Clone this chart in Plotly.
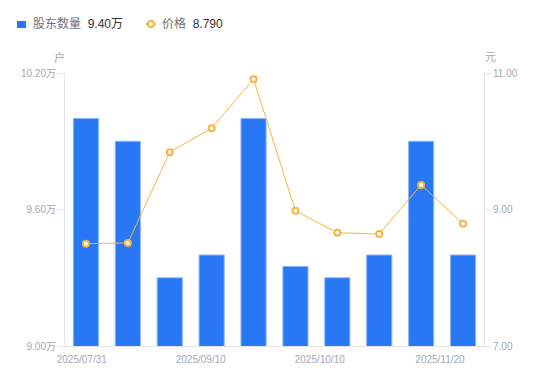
import plotly.graph_objects as go

dates = ["2025/07/31", "2025/08/15", "2025/08/29", "2025/09/10", "2025/09/19",
         "2025/09/30", "2025/10/10", "2025/10/20", "2025/10/31", "2025/11/20"]
holders = [10.00, 9.90, 9.30, 9.40, 10.00, 9.35, 9.30, 9.40, 9.90, 9.40]   # 万户
price = [8.50, 8.51, 9.84, 10.19, 10.91, 8.98, 8.66, 8.64, 9.36, 8.79]      # 元

left_ticks = [9.00, 9.60, 10.20]
right_ticks = [7.00, 9.00, 11.00]
xlabel_idx = [0, 3, 6, 9]
xlabel_pos = [-0.1, 2.74, 5.58, 8.45]

BLUE = "#2878f5"
ORANGE = "#f6b440"
GREY = "#a3a6b4"
AXIS = "#e3e5ea"
FONT = "Liberation Sans, Arial, Noto Sans CJK SC, sans-serif"

x = list(range(len(dates)))

fig = go.Figure()
fig.add_trace(go.Bar(
    x=x, y=holders, width=0.6,
    marker=dict(color=BLUE, line=dict(color="#8bb6fa", width=1)),
    name="股东数量", yaxis="y",
))
fig.add_trace(go.Scatter(
    x=x, y=price, mode="lines+markers", yaxis="y2", name="价格",
    line=dict(color=ORANGE, width=1),
    marker=dict(symbol="circle", size=6, color="white",
                line=dict(color=ORANGE, width=2)),
))

fig.update_layout(
    width=550, height=381,
    margin=dict(l=65, r=66, t=73, b=35),
    plot_bgcolor="white", paper_bgcolor="white",
    showlegend=False,
    font=dict(family=FONT, size=10, color=GREY),
    xaxis=dict(
        range=[-0.5, len(dates) - 0.5],
        tickvals=xlabel_pos, ticktext=[dates[i] for i in xlabel_idx],
        showgrid=False, zeroline=False, showline=True, linecolor=AXIS,
        ticks="", tickfont=dict(size=10, color=GREY), ticklabelstandoff=4,
    ),
    yaxis=dict(
        range=[9.0, 10.2], tickvals=left_ticks,
        ticktext=[f"{v:.2f}万" for v in left_ticks],
        showgrid=False, zeroline=False, showline=True, linecolor=AXIS,
        ticks="outside", ticklen=6, tickcolor=AXIS,
        tickfont=dict(size=10, color=GREY),
    ),
    yaxis2=dict(
        range=[7.0, 11.0], tickvals=right_ticks,
        ticktext=[f"{v:.2f}" for v in right_ticks],
        overlaying="y", side="right",
        showgrid=False, zeroline=False, showline=True, linecolor=AXIS,
        ticks="outside", ticklen=6, tickcolor=AXIS,
        tickfont=dict(size=10, color=GREY),
    ),
    bargap=0.4,
)

# axis units
fig.add_annotation(xref="paper", yref="paper", x=0, y=1, xshift=-6, yshift=16,
                   text="户", showarrow=False, xanchor="center", yanchor="middle",
                   font=dict(size=11, color=GREY))
fig.add_annotation(xref="paper", yref="paper", x=1, y=1, xshift=6, yshift=16,
                   text="元", showarrow=False, xanchor="center", yanchor="middle",
                   font=dict(size=11, color=GREY))

# custom legend
LBL = "#6e7079"
VAL = "#333333"
fig.add_shape(type="rect", xref="paper", yref="paper",
              x0=-48 / 419, x1=-39 / 419, y0=1 + 45 / 273, y1=1 + 52 / 273,
              fillcolor=BLUE, line=dict(width=0))
fig.add_annotation(xref="paper", yref="paper", x=-34 / 419, y=1 + 49 / 273,
                   text=f"<span style='color:{LBL}'>股东数量</span>  "
                        f"<span style='color:{VAL}'>{holders[-1]:.2f}万</span>",
                   showarrow=False, xanchor="left", yanchor="middle",
                   font=dict(size=12))
fig.add_shape(type="line", xref="paper", yref="paper",
              x0=81 / 419, x1=91 / 419, y0=1 + 49 / 273, y1=1 + 49 / 273,
              line=dict(color=ORANGE, width=2))
fig.add_shape(type="circle", xref="paper", yref="paper",
              x0=83 / 419, x1=89 / 419, y0=1 + 46 / 273, y1=1 + 52 / 273,
              fillcolor="white", line=dict(color=ORANGE, width=2))
fig.add_annotation(xref="paper", yref="paper", x=95 / 419, y=1 + 49 / 273,
                   text=f"<span style='color:{LBL}'>价格</span>  "
                        f"<span style='color:{VAL}'>{price[-1]:.3f}</span>",
                   showarrow=False, xanchor="left", yanchor="middle",
                   font=dict(size=12))

fig.write_html("out.html", config={"displayModeBar": False},
               post_script="document.body.style.margin='0';document.body.style.padding='0';")
